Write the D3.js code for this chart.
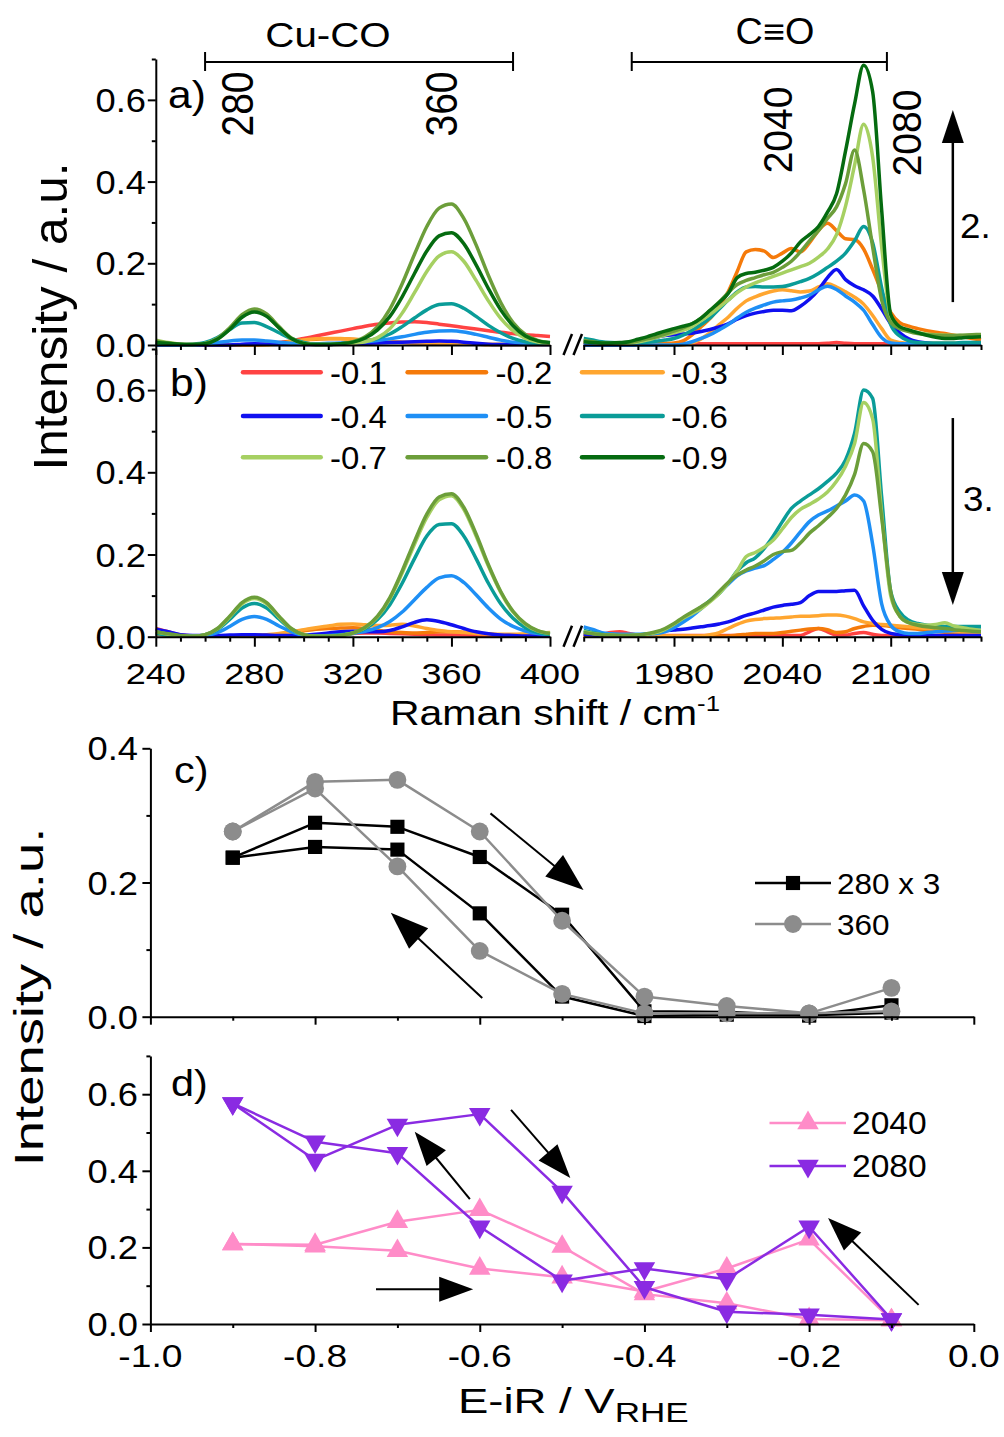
<!DOCTYPE html>
<html><head><meta charset="utf-8">
<script src="https://cdn.jsdelivr.net/npm/d3@7"></script>
<style>
body{margin:0;background:#fff}
text{font-family:"Liberation Sans",Arial,Helvetica,sans-serif;fill:#000}
</style></head>
<body><svg id="chart" width="1004" height="1437"></svg>
<script>
// ---------------- DATA ----------------
const potentialLabels = ["-0.1","-0.2","-0.3","-0.4","-0.5","-0.6","-0.7","-0.8","-0.9"];
const shiftLow = [240,245,250,255,260,265,270,275,280,285,290,295,300,305,310,315,320,325,330,335,340,345,350,355,360,365,370,375,380,385,390,395,400];
const shiftHigh = [1930,1935,1940,1945,1950,1955,1960,1965,1970,1975,1980,1985,1990,1995,2000,2005,2010,2015,2020,2025,2030,2035,2040,2045,2050,2055,2060,2065,2070,2075,2080,2085,2090,2095,2100,2105,2110,2115,2120,2125,2130,2135,2140,2145,2150];
const lowTicks = [240,280,320,360,400];
const highTicks = [1980,2040,2100];

// panel a (forward scan), low-shift region, one row per potential
const spectraA_low = [
 [0,0,0,0,0,0,0,0,0,0.002,0.006,0.01,0.016,0.022,0.028,0.034,0.04,0.046,0.051,0.054,0.056,0.057,0.055,0.051,0.047,0.043,0.039,0.035,0.031,0.028,0.025,0.023,0.021],
 [0,0,0,0,0,0,0,0,0,0.002,0.005,0.009,0.012,0.014,0.015,0.015,0.014,0.012,0.01,0.008,0.006,0.005,0.005,0.004,0.004,0.003,0.002,0.001,0.001,0.001,0.001,0.001,0.001],
 [0,0,0,0,0,0,0,0,0,0,0.003,0.008,0.012,0.015,0.016,0.016,0.014,0.012,0.01,0.008,0.007,0.006,0.006,0.005,0.004,0.003,0.002,0.001,0.001,0.001,0.001,0.001,0.001],
 [0,0,0,0,0,0,0,0.002,0.003,0.002,0.001,0.001,0.001,0.001,0.001,0.002,0.003,0.004,0.005,0.006,0.007,0.008,0.009,0.01,0.009,0.007,0.004,0.002,0.001,0.001,0.001,0.001,0.001],
 [0,0,0,0,0.002,0.006,0.01,0.012,0.012,0.01,0.007,0.004,0.003,0.003,0.004,0.005,0.006,0.008,0.011,0.015,0.02,0.026,0.031,0.034,0.035,0.032,0.026,0.019,0.012,0.007,0.004,0.002,0.001],
 [0.004,0.002,0.001,0.002,0.006,0.018,0.038,0.054,0.055,0.045,0.03,0.016,0.006,0.002,0.002,0.003,0.005,0.009,0.016,0.027,0.045,0.066,0.086,0.099,0.101,0.09,0.07,0.048,0.03,0.016,0.008,0.004,0.002],
 [0.012,0.006,0.002,0.001,0.004,0.015,0.04,0.07,0.083,0.072,0.042,0.016,0.004,0.001,0.001,0.002,0.004,0.008,0.018,0.04,0.078,0.128,0.18,0.218,0.228,0.205,0.158,0.108,0.065,0.035,0.016,0.007,0.004],
 [0.01,0.005,0.002,0.001,0.004,0.016,0.042,0.074,0.088,0.076,0.045,0.017,0.004,0.001,0.001,0.003,0.008,0.02,0.045,0.088,0.15,0.222,0.29,0.335,0.345,0.31,0.245,0.17,0.104,0.055,0.026,0.011,0.005],
 [0.006,0.004,0.002,0.001,0.003,0.014,0.038,0.068,0.081,0.07,0.042,0.016,0.004,0.001,0.001,0.003,0.007,0.017,0.037,0.07,0.118,0.175,0.23,0.267,0.275,0.248,0.196,0.138,0.086,0.047,0.022,0.01,0.006]
];
// panel a, high-shift region
const spectraA_high = [
 [0.008,0.004,0.003,0.003,0.003,0.003,0.003,0.003,0.003,0.003, 0.003,0.003,0.003,0.003,0.003,0.003,0.003,0.003,0.003,0.003, 0.003,0.003,0.003,0.003,0.003,0.003,0.003,0.004,0.006,0.004, 0.003,0.003,0.003,0.003,0.003,0.003,0.003,0.003,0.003,0.003, 0.003,0.003,0.003,0.003,0.003],
 [0,0,0,0,0,0,0.001,0.002,0.003,0.004, 0.005,0.01,0.025,0.045,0.065,0.095,0.13,0.18,0.228,0.234, 0.23,0.214,0.225,0.236,0.228,0.25,0.28,0.298,0.28,0.26, 0.258,0.235,0.185,0.13,0.08,0.055,0.046,0.04,0.035,0.031, 0.028,0.024,0.02,0.016,0.012],
 [0,0,0,0,0,0,0,0,0,0, 0,0,0.005,0.015,0.03,0.05,0.068,0.09,0.108,0.118, 0.126,0.132,0.135,0.133,0.13,0.132,0.142,0.15,0.142,0.13, 0.117,0.1,0.072,0.04,0.012,0.006,0.004,0.004,0.004,0.004, 0.004,0.004,0.004,0.004,0.004],
 [0,0,0,0,0,0,0.002,0.01,0.018,0.023, 0.025,0.027,0.029,0.033,0.038,0.044,0.052,0.063,0.072,0.078, 0.082,0.085,0.085,0.084,0.095,0.112,0.135,0.165,0.185,0.16, 0.145,0.135,0.12,0.088,0.052,0.03,0.015,0.008,0.005,0.003, 0.003,0.003,0.003,0.003,0.003],
 [0,0,0,0,0,0,0,0,0,0, 0,0.002,0.008,0.016,0.025,0.037,0.05,0.066,0.08,0.09, 0.098,0.105,0.108,0.11,0.115,0.122,0.135,0.144,0.136,0.12, 0.105,0.085,0.05,0.018,0.005,0.003,0.003,0.003,0.003,0.003, 0.003,0.003,0.003,0.003,0.003],
 [0.016,0.012,0.008,0.006,0.005,0.005,0.006,0.007,0.009,0.012, 0.016,0.024,0.036,0.05,0.066,0.088,0.11,0.13,0.142,0.143, 0.142,0.142,0.143,0.148,0.155,0.163,0.175,0.19,0.205,0.225, 0.255,0.29,0.25,0.14,0.05,0.022,0.01,0.006,0.005,0.005, 0.005,0.005,0.006,0.006,0.006],
 [0.01,0.006,0.004,0.003,0.003,0.004,0.007,0.012,0.018,0.024, 0.03,0.036,0.045,0.06,0.075,0.092,0.11,0.128,0.142,0.152, 0.16,0.168,0.176,0.184,0.192,0.2,0.215,0.235,0.27,0.34, 0.44,0.54,0.46,0.24,0.07,0.042,0.035,0.03,0.027,0.025, 0.024,0.023,0.023,0.024,0.025],
 [0.012,0.008,0.005,0.004,0.004,0.006,0.01,0.015,0.02,0.027, 0.034,0.042,0.052,0.066,0.085,0.105,0.128,0.148,0.158,0.165, 0.172,0.178,0.19,0.205,0.228,0.255,0.28,0.31,0.338,0.395, 0.477,0.38,0.24,0.11,0.055,0.04,0.033,0.028,0.025,0.024, 0.023,0.023,0.024,0.025,0.026],
 [0.008,0.006,0.005,0.005,0.006,0.008,0.014,0.02,0.027,0.034, 0.04,0.046,0.052,0.066,0.085,0.104,0.126,0.165,0.175,0.178, 0.183,0.19,0.205,0.225,0.252,0.27,0.29,0.325,0.37,0.475, 0.59,0.685,0.62,0.33,0.075,0.045,0.037,0.03,0.024,0.019, 0.016,0.016,0.018,0.019,0.02]
];
// panel b (backward scan), low-shift region (no -0.9 spectrum drawn)
const spectraB_low = [
 [0.02,0.012,0.004,0.002,0.002,0.002,0.002,0.002,0.002,0.002,0.002,0.003,0.004,0.005,0.006,0.007,0.008,0.009,0.009,0.008,0.007,0.006,0.005,0.004,0.004,0.004,0.003,0.003,0.003,0.003,0.003,0.003,0.003],
 [0.006,0.004,0.002,0.002,0.002,0.002,0.002,0.002,0.003,0.004,0.006,0.01,0.014,0.018,0.02,0.021,0.022,0.02,0.016,0.012,0.01,0.009,0.01,0.012,0.012,0.011,0.009,0.006,0.004,0.003,0.003,0.003,0.003],
 [0.01,0.006,0.003,0.002,0.002,0.002,0.002,0.003,0.004,0.005,0.008,0.012,0.017,0.022,0.026,0.03,0.031,0.029,0.027,0.028,0.03,0.026,0.02,0.015,0.012,0.01,0.008,0.007,0.006,0.006,0.007,0.008,0.01],
 [0.018,0.012,0.005,0.003,0.003,0.003,0.004,0.005,0.005,0.004,0.003,0.003,0.004,0.006,0.009,0.012,0.013,0.012,0.012,0.015,0.024,0.035,0.041,0.037,0.029,0.02,0.012,0.007,0.004,0.003,0.002,0.002,0.002],
 [0.01,0.005,0.002,0.001,0.003,0.01,0.025,0.042,0.049,0.042,0.026,0.012,0.004,0.002,0.003,0.005,0.008,0.013,0.022,0.037,0.06,0.09,0.12,0.143,0.148,0.132,0.102,0.07,0.043,0.025,0.014,0.008,0.006],
 [0.008,0.004,0.002,0.001,0.005,0.017,0.042,0.07,0.081,0.07,0.043,0.018,0.005,0.002,0.002,0.004,0.009,0.02,0.042,0.078,0.13,0.19,0.245,0.273,0.275,0.245,0.19,0.13,0.08,0.045,0.022,0.01,0.005],
 [0.012,0.006,0.002,0.001,0.005,0.019,0.048,0.08,0.093,0.08,0.048,0.019,0.005,0.001,0.001,0.003,0.009,0.022,0.048,0.092,0.155,0.225,0.29,0.333,0.343,0.31,0.245,0.172,0.108,0.06,0.03,0.014,0.008],
 [0.012,0.007,0.003,0.001,0.005,0.02,0.05,0.083,0.096,0.083,0.05,0.02,0.005,0.001,0.001,0.003,0.009,0.023,0.05,0.095,0.16,0.232,0.298,0.34,0.348,0.315,0.25,0.175,0.11,0.062,0.032,0.015,0.008],
 null
];
// panel b, high-shift region
const spectraB_high = [
 [0.004,0.004,0.006,0.01,0.012,0.008,0.004,0.003,0.003,0.003, 0.003,0.003,0.003,0.003,0.003,0.003,0.003,0.003,0.003,0.003, 0.003,0.003,0.003,0.003,0.003,0.012,0.02,0.012,0.004,0.004, 0.008,0.01,0.006,0.003,0.003,0.003,0.003,0.003,0.003,0.003, 0.003,0.003,0.003,0.003,0.003],
 [0.002,0.002,0.002,0.002,0.002,0.002,0.002,0.002,0.002,0.002, 0.002,0.002,0.002,0.002,0.002,0.002,0.002,0.004,0.006,0.008, 0.008,0.008,0.01,0.013,0.016,0.019,0.02,0.017,0.01,0.012, 0.02,0.025,0.028,0.027,0.025,0.022,0.02,0.018,0.015,0.013, 0.011,0.009,0.007,0.006,0.005],
 [0.002,0.002,0.002,0.002,0.002,0.002,0.002,0.002,0.002,0.002, 0.002,0.002,0.002,0.002,0.005,0.01,0.02,0.03,0.038,0.042, 0.044,0.045,0.046,0.048,0.05,0.05,0.051,0.053,0.053,0.05, 0.044,0.036,0.032,0.03,0.028,0.026,0.024,0.022,0.02,0.018, 0.015,0.013,0.011,0.009,0.008],
 [0.006,0.004,0.002,0.002,0.002,0.002,0.003,0.006,0.01,0.014, 0.016,0.018,0.021,0.024,0.027,0.031,0.036,0.044,0.052,0.058, 0.065,0.072,0.076,0.079,0.083,0.1,0.11,0.11,0.11,0.112, 0.113,0.075,0.04,0.018,0.008,0.005,0.004,0.003,0.003,0.003, 0.003,0.003,0.003,0.003,0.003],
 [0.024,0.018,0.01,0.007,0.006,0.006,0.006,0.007,0.008,0.012, 0.022,0.035,0.05,0.068,0.088,0.108,0.128,0.148,0.16,0.167, 0.173,0.188,0.205,0.228,0.255,0.28,0.296,0.306,0.318,0.33, 0.345,0.33,0.225,0.08,0.028,0.012,0.008,0.008,0.01,0.012, 0.014,0.015,0.016,0.017,0.017],
 [0.015,0.01,0.006,0.004,0.003,0.003,0.004,0.006,0.01,0.018, 0.03,0.045,0.058,0.072,0.088,0.105,0.13,0.16,0.18,0.192, 0.215,0.245,0.28,0.312,0.33,0.345,0.36,0.378,0.398,0.43, 0.495,0.6,0.58,0.34,0.11,0.06,0.04,0.032,0.028,0.026, 0.025,0.025,0.025,0.025,0.025],
 [0.012,0.008,0.005,0.004,0.003,0.003,0.004,0.006,0.01,0.018, 0.03,0.045,0.056,0.068,0.085,0.105,0.13,0.16,0.195,0.205, 0.218,0.235,0.262,0.29,0.31,0.322,0.335,0.352,0.378,0.415, 0.47,0.57,0.53,0.3,0.1,0.05,0.034,0.03,0.028,0.03, 0.034,0.026,0.022,0.018,0.016],
 [0.01,0.007,0.005,0.004,0.003,0.003,0.004,0.007,0.012,0.02, 0.032,0.047,0.06,0.073,0.088,0.11,0.132,0.15,0.162,0.172, 0.185,0.2,0.207,0.21,0.228,0.252,0.27,0.29,0.312,0.345, 0.395,0.47,0.45,0.29,0.11,0.05,0.034,0.028,0.024,0.022, 0.02,0.017,0.015,0.013,0.012],
 null
];

// panels c and d: peak intensity vs potential
const potential = [-0.1,-0.2,-0.3,-0.4,-0.5,-0.6,-0.7,-0.8,-0.9];
const band280x3_fwd = [0.006,0.002,0.003,0.001,0.03,0.154,0.249,0.253,0.237];
const band280x3_bwd = [0.017,0.002,0.007,0.008,0.152,0.238,0.283,0.289,0.237];
const band360_fwd   = [0.043,0.005,0.005,0.005,0.034,0.098,0.224,0.34,0.276];
const band360_bwd   = [0.008,0.005,0.016,0.03,0.143,0.276,0.353,0.35,0.276];
const band2040_fwd  = [0.01,0.221,0.145,0.085,0.122,0.145,0.191,0.203,0.209];
const band2040_bwd  = [0.01,0.013,0.054,0.078,0.202,0.298,0.267,0.207,0.209];
const band2080_fwd  = [0.012,0.254,0.117,0.145,0.113,0.254,0.446,0.476,0.576];
const band2080_bwd  = [0.012,0.024,0.032,0.096,0.345,0.548,0.52,0.428,0.576];
const potTicks = [-1.0,-0.8,-0.6,-0.4,-0.2,0.0];

// ---------------- STYLE ----------------
const specColors = ["#ff4343","#f57a0a","#ffa630","#1010f0","#1e8ff5","#0a9c98","#a6d062","#6c9e3a","#056b10"];

// ---------------- LAYOUT / SCALES ----------------
const svg = d3.select("#chart");
const xL = d3.scaleLinear().domain([240,400]).range([155.8,550]);
const xH = d3.scaleLinear().domain([1930,2150]).range([583.7,981]);
const yA = d3.scaleLinear().domain([0,0.7]).range([345,59]);
const yB = d3.scaleLinear().domain([0,0.7]).range([636.7,349]);
const xE = d3.scaleLinear().domain([-1,0]).range([150.4,973.8]);
const yC = d3.scaleLinear().domain([0,0.4]).range([1016.7,748.3]);
const yD = d3.scaleLinear().domain([0,0.7]).range([1324,1055.9]);

function txt(g,x,y,s,o){
  return g.append("text")
    .attr("transform",`translate(${x},${y}) rotate(${o.rot||0}) scale(${o.sx||1},${o.sy||1})`)
    .attr("text-anchor",o.anchor||"start")
    .style("font-size",o.size+"px").text(s);
}
function styleAxis(sel){ sel.selectAll("path,line").attr("stroke","#000").attr("stroke-width",2); }
function xAxis(scale,y,majors,minors,majLen,minLen){
  svg.append("g").attr("transform",`translate(0,${y})`)
    .call(d3.axisBottom(scale).tickValues(majors).tickSize(majLen).tickSizeOuter(0).tickFormat(""))
    .call(styleAxis);
  const m = svg.append("g").attr("transform",`translate(0,${y})`)
    .call(d3.axisBottom(scale).tickValues(minors).tickSize(minLen).tickSizeOuter(0).tickFormat(""))
    .call(styleAxis);
  m.select(".domain").remove();
}
function yAxis(scale,x,majors,minors,majLen,minLen){
  svg.append("g").attr("transform",`translate(${x},0)`)
    .call(d3.axisLeft(scale).tickValues(majors).tickSize(majLen).tickSizeOuter(0).tickFormat(""))
    .call(styleAxis);
  const m = svg.append("g").attr("transform",`translate(${x},0)`)
    .call(d3.axisLeft(scale).tickValues(minors).tickSize(minLen).tickSizeOuter(0).tickFormat(""))
    .call(styleAxis);
  m.select(".domain").remove();
}
function arrow(x1,y1,x2,y2,hl,hw,w){
  const dx=x2-x1, dy=y2-y1, L=Math.hypot(dx,dy), ux=dx/L, uy=dy/L;
  const bx=x2-ux*hl, by=y2-uy*hl;
  svg.append("line").attr("x1",x1).attr("y1",y1).attr("x2",bx+ux*2).attr("y2",by+uy*2)
    .attr("stroke","#000").attr("stroke-width",w||2);
  svg.append("path").attr("d",`M${x2},${y2}L${bx-uy*hw/2},${by+ux*hw/2}L${bx+uy*hw/2},${by-ux*hw/2}Z`).attr("fill","#000");
}

// minor tick lists (every 10 cm-1 / 0.1 a.u.)
const lowMinor = shiftLow.filter(v=>v%10===0 && v%40!==0);
const highMinor = shiftHigh.filter(v=>v%10===0 && (v-1980)%60!==0);

// ---------------- PANELS a & b ----------------
function drawSpectra(sets,xs,xs_scale,ys_scale){
  sets.forEach((ys,k)=>{
    if(!ys) return;
    const line = d3.line().x((d,i)=>xs_scale(xs[i])).y(d=>ys_scale(d)).curve(d3.curveMonotoneX);
    svg.append("path").attr("d",line(ys)).attr("fill","none")
      .attr("stroke",specColors[k]).attr("stroke-width",3.5).attr("stroke-linejoin","round");
  });
}
drawSpectra(spectraA_low,shiftLow,xL,yA);
drawSpectra(spectraA_high,shiftHigh,xH,yA);
drawSpectra(spectraB_low,shiftLow,xL,yB);
drawSpectra(spectraB_high,shiftHigh,xH,yB);

[yA(0),yB(0)].forEach(y=>{
  xAxis(xL,y,lowTicks,lowMinor,10,5);
  xAxis(xH,y,highTicks,highMinor,10,5);
  // break marks
  [0,10].forEach(o=>{
    svg.append("line").attr("x1",563.5+o).attr("y1",y+10).attr("x2",572+o).attr("y2",y-11)
      .attr("stroke","#000").attr("stroke-width",2.5);
  });
});
yAxis(yA,155.8,[0,0.2,0.4,0.6],[0.1,0.3,0.5,0.7],8,4);
yAxis(yB,155.8,[0,0.2,0.4,0.6],[0.1,0.3,0.5,0.7],8,4);

[0,0.2,0.4,0.6].forEach(v=>{
  txt(svg,146,yA(v)+12,v.toFixed(1),{size:33,sx:1.1,anchor:"end"});
  txt(svg,146,yB(v)+12,v.toFixed(1),{size:33,sx:1.1,anchor:"end"});
});
lowTicks.forEach(v=>txt(svg,xL(v),684,String(v),{size:30,sx:1.2,anchor:"middle"}));
highTicks.forEach(v=>txt(svg,xH(v),684,String(v),{size:30,sx:1.2,anchor:"middle"}));

const rl = txt(svg,390,725,"",{size:35,sx:1.17});
rl.append("tspan").text("Raman shift / cm");
rl.append("tspan").attr("dy",-14).style("font-size","22px").text("-1");

txt(svg,67,316.5,"Intensity / a.u.",{size:48,rot:-90,sx:1.03,anchor:"middle"});
txt(svg,168,108,"a)",{size:38,sx:1.12});
txt(svg,170,396,"b)",{size:38,sx:1.12});

// brackets
function bracket(x1,x2,y){
  svg.append("line").attr("x1",x1).attr("x2",x2).attr("y1",y).attr("y2",y).attr("stroke","#000").attr("stroke-width",2);
  [x1,x2].forEach(x=>svg.append("line").attr("x1",x).attr("x2",x).attr("y1",y-10).attr("y2",y+9).attr("stroke","#000").attr("stroke-width",2));
}
bracket(xL(260),xL(385),62);
bracket(xH(1956.6),xH(2097.9),62);
txt(svg,328,47,"Cu-CO",{size:36,sx:1.12,anchor:"middle"});
txt(svg,775,44,"C\u2261O",{size:36,sx:1.05,anchor:"middle"});
txt(svg,253,104,"280",{size:39,rot:-90,sy:1.12,anchor:"middle"});
txt(svg,457,104,"360",{size:39,rot:-90,sy:1.12,anchor:"middle"});
txt(svg,792,130,"2040",{size:39,rot:-90,sy:1.05,anchor:"middle"});
txt(svg,921,133,"2080",{size:39,rot:-90,sy:1.05,anchor:"middle"});

// big step arrows
arrow(xH(2134.4),yA(0.105),xH(2134.4),yA(0.575),33,22,2.5);
txt(svg,960,238,"2.",{size:35,sx:1.05});
arrow(xH(2134.4),yB(0.532),xH(2134.4),yB(0.077),33,22,2.5);
txt(svg,963,511,"3.",{size:35,sx:1.05});

// legend
const legCols = [[243,320.7,330],[407.6,486,495.6],[582,662.7,671]];
const legRows = [372.3,416,457.3];
potentialLabels.forEach((p,k)=>{
  const c = legCols[k%3], y = legRows[Math.floor(k/3)];
  svg.append("line").attr("x1",c[0]).attr("x2",c[1]).attr("y1",y).attr("y2",y)
    .attr("stroke",specColors[k]).attr("stroke-width",4.5).attr("stroke-linecap","round");
  txt(svg,c[2],y+11.5,p,{size:32,sx:1.03});
});

// ---------------- PANELS c & d ----------------
const sym = (type,size,rot)=>d3.symbol().type(type).size(size)();
function drawSeries(ys_scale,seriesList,color,type,size,rot,lw){
  seriesList.forEach(vals=>{
    const line = d3.line().x((d,i)=>xE(potential[i])).y(d=>ys_scale(d));
    svg.append("path").attr("d",line(vals)).attr("fill","none").attr("stroke",color)
      .attr("stroke-width",lw).attr("stroke-linejoin","round");
  });
  seriesList.forEach(vals=>{
    vals.forEach((v,i)=>{
      svg.append("path").attr("d",sym(type,size))
        .attr("transform",`translate(${xE(potential[i])},${ys_scale(v)}) rotate(${rot})`).attr("fill",color);
    });
  });
}
drawSeries(yC,[band280x3_fwd,band280x3_bwd],"#000",d3.symbolSquare,200,0,2.5);
drawSeries(yC,[band360_fwd,band360_bwd],"#8c8c8c",d3.symbolCircle,250,0,2.5);
drawSeries(yD,[band2040_fwd,band2040_bwd],"#ff8cc8",d3.symbolTriangle,200,0,2.5);
drawSeries(yD,[band2080_fwd,band2080_bwd],"#8a2be2",d3.symbolTriangle,200,180,2.5);

xAxis(xE,yC(0),potTicks,[-0.9,-0.7,-0.5,-0.3,-0.1],8,4);
xAxis(xE,yD(0),potTicks,[-0.9,-0.7,-0.5,-0.3,-0.1],8,4);
yAxis(yC,150.4,[0,0.2,0.4],[0.1,0.3],8,4);
yAxis(yD,150.4,[0,0.2,0.4,0.6],[0.1,0.3,0.5,0.7],8,4);
[0,0.2,0.4].forEach(v=>txt(svg,138,yC(v)+12,v.toFixed(1),{size:33,sx:1.1,anchor:"end"}));
[0,0.2,0.4,0.6].forEach(v=>txt(svg,138,yD(v)+12,v.toFixed(1),{size:33,sx:1.1,anchor:"end"}));
potTicks.forEach(v=>txt(svg,xE(v),1367,v.toFixed(1),{size:31,sx:1.2,anchor:"middle"}));

const el = txt(svg,458,1413,"",{size:35,sx:1.3});
el.append("tspan").text("E-iR / V");
el.append("tspan").attr("dy",9).style("font-size","27px").text("RHE");
txt(svg,43,997,"Intensity / a.u.",{size:40,rot:-90,sx:1.36,anchor:"middle"});
txt(svg,174,783,"c)",{size:37,sx:1.12});
txt(svg,171,1096,"d)",{size:37,sx:1.12});

// legends c, d
function legItem(x1,x2,xm,y,color,type,size,rot,label,fs){
  svg.append("line").attr("x1",x1).attr("x2",x2).attr("y1",y).attr("y2",y).attr("stroke",color).attr("stroke-width",2.5);
  svg.append("path").attr("d",sym(type,size)).attr("transform",`translate(${xm},${y}) rotate(${rot})`).attr("fill",color);
  txt(svg,x2+6,y+11,label,{size:fs,sx:1.05});
}
legItem(755,831,793,883,"#000",d3.symbolSquare,200,0,"280 x 3",30);
legItem(755,831,793,924,"#8c8c8c",d3.symbolCircle,250,0,"360",30);
legItem(769.5,846,808,1123,"#ff8cc8",d3.symbolTriangle,200,0,"2040",32);
legItem(769.5,846,808,1166,"#8a2be2",d3.symbolTriangle,200,180,"2080",32);

// hysteresis arrows (data coordinates)
arrow(xE(-0.587),yC(0.303),xE(-0.474),yC(0.189),38,28,2);
arrow(xE(-0.597),yC(0.028),xE(-0.708),yC(0.155),38,28,2);
arrow(xE(-0.612),yD(0.326),xE(-0.679),yD(0.502),34,25,2);
arrow(xE(-0.562),yD(0.559),xE(-0.490),yD(0.381),34,25,2);
arrow(xE(-0.726),yD(0.091),xE(-0.608),yD(0.091),34,25,2);
arrow(xE(-0.067),yD(0.05),xE(-0.177),yD(0.277),34,25,2);
</script></body></html>
